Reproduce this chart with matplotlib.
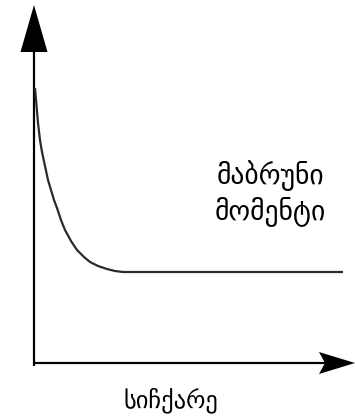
import matplotlib.pyplot as plt

# torque-speed curve (schematic), units ~ pixels from the origin
speed = [1, 2.5, 4, 6, 8, 11, 14, 17, 20, 23, 27, 31, 37, 43, 50, 56, 64, 73, 81, 89, 309]
torque = [275, 258, 240, 223, 211, 197, 183, 173, 163, 155, 143, 133, 122, 113,
          106, 101, 97, 94, 92, 91, 91]

y_label = ["მაბრუნი", "მომენტი"]
x_label = "სიჩქარე"

fig = plt.figure(figsize=(3.55, 4.18), dpi=100)
ax = fig.add_axes([0, 0, 1, 1])
ax.set_xlim(-34, 321)
ax.set_ylim(-55, 363)
ax.axis('off')

line_col = '#2a2a2a'

ax.plot(speed, torque, color=line_col, lw=1.6, solid_capstyle='butt')

# axes as arrows
ax.arrow(0, -3, 0, 361, width=2.2, head_width=27, head_length=47,
         length_includes_head=True, color='black', lw=0)
ax.arrow(-1, 0, 322, 0, width=2.2, head_width=22, head_length=36,
         length_includes_head=True, overhang=0.15, color='black', lw=0)

renderer = fig.canvas.get_renderer()


def fit(t, width_px):
    # scale the font so the word is about as wide as in the original
    w = t.get_window_extent(renderer=renderer).width
    t.set_fontsize(t.get_fontsize() * width_px / w)


t1 = ax.text(236, 187, y_label[0], ha='center', va='center', fontsize=16)
t2 = ax.text(236, 152, y_label[1], ha='center', va='center', fontsize=16)
t3 = ax.text(137, -37, x_label, ha='center', va='center', fontsize=16)
fit(t1, 108)
t2.set_fontsize(t1.get_fontsize())
fit(t3, 95)

fig.savefig('out.png', dpi=100)
